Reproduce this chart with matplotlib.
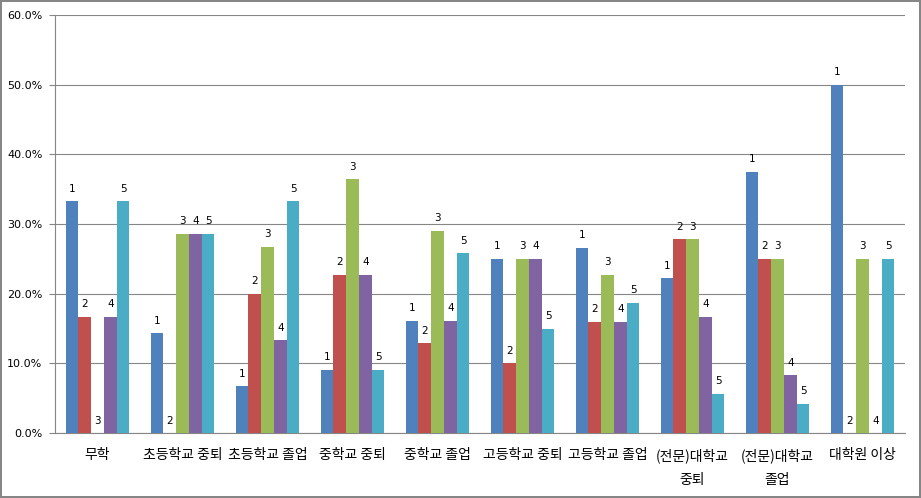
import numpy as np
import matplotlib
matplotlib.use("Agg")
import matplotlib.pyplot as plt

# categories (education level) and five response groups, values in %
categories = ["무학", "초등학교 중퇴", "초등학교 졸업", "중학교 중퇴", "중학교 졸업",
              "고등학교 중퇴", "고등학교 졸업", "(전문)대학교\n중퇴", "(전문)대학교\n졸업",
              "대학원 이상"]
series_names = ["1", "2", "3", "4", "5"]
s1 = [33.3, 14.3, 6.7, 9.1, 16.1, 25.0, 26.6, 22.2, 37.5, 50.0]
s2 = [16.7, 0.0, 20.0, 22.7, 12.9, 10.0, 16.0, 27.8, 25.0, 0.0]
s3 = [0.0, 28.6, 26.7, 36.4, 29.0, 25.0, 22.7, 27.8, 25.0, 25.0]
s4 = [16.7, 28.6, 13.3, 22.7, 16.1, 25.0, 16.0, 16.7, 8.3, 0.0]
s5 = [33.3, 28.6, 33.3, 9.1, 25.8, 15.0, 18.7, 5.6, 4.2, 25.0]
yticks = [0, 10, 20, 30, 40, 50, 60]

colors = ["#4F81BD", "#C0504D", "#9BBB59", "#8064A2", "#4BACC6"]
series = [s1, s2, s3, s4, s5]

fig = plt.figure(figsize=(9.21, 4.98), dpi=100, edgecolor="#868686", linewidth=1.5)
ax = fig.add_axes([55 / 921, 65 / 498, 850 / 921, 418 / 498])

x = np.arange(len(categories))
w = 0.15
for i, (vals, c, name) in enumerate(zip(series, colors, series_names)):
    pos = x + (i - 2) * w
    ax.bar(pos, vals, width=w, color=c, zorder=3)
    for px, v in zip(pos, vals):
        ax.annotate(name, (px, v), xytext=(0, 9), textcoords="offset points",
                    ha="center", va="center", fontsize=7.5, color="black")

ax.set_xlim(-0.5, len(categories) - 0.5)
ax.set_ylim(0, 60)
ax.set_yticks(yticks)
ax.set_yticklabels([f"{t:.1f}%" for t in yticks], fontsize=8)
ax.yaxis.grid(True, color="#868686", linewidth=0.8, zorder=0)
ax.tick_params(axis="y", length=4, color="#868686", pad=5)

ax.set_xticks(x)
ax.set_xticklabels(categories, fontsize=10, family=["Noto Sans CJK KR", "DejaVu Sans"],
                   linespacing=1.9)
ax.tick_params(axis="x", length=0, pad=11)

for s in ["top", "right"]:
    ax.spines[s].set_visible(False)
for s in ["left", "bottom"]:
    ax.spines[s].set_color("#868686")

fig.savefig("out.png", dpi=100, edgecolor=fig.get_edgecolor())
